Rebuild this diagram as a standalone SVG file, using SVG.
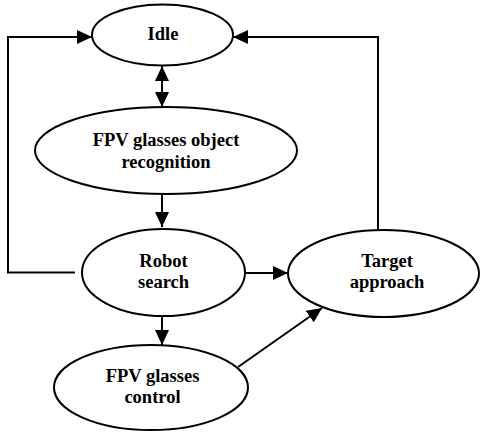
<svg xmlns="http://www.w3.org/2000/svg" width="482" height="432" viewBox="0 0 482 432">
<defs>
<style>
.n{fill:#fff;stroke:#000;stroke-width:2}
.t{font-family:"Liberation Serif","Times New Roman",serif;font-weight:bold;font-size:18.5px;text-anchor:middle;fill:#000}
.c{fill:none;stroke:#000;stroke-width:2}
</style>
<marker id="ah" markerUnits="userSpaceOnUse" markerWidth="15" markerHeight="14" refX="15" refY="7" orient="auto-start-reverse" viewBox="0 0 15 14">
<path d="M0,0 L15,7 L0,14 Z" fill="#000"/>
</marker>
</defs>
<rect width="482" height="432" fill="#fff"/>
<g id="connectors">
<path class="c" d="M75,272.5 H8 V37 H92" marker-end="url(#ah)"/>
<path class="c" d="M378,230 V37 H233" marker-end="url(#ah)"/>
<path class="c" d="M162,66 V107" marker-start="url(#ah)" marker-end="url(#ah)"/>
<path class="c" d="M162,194 V227" marker-end="url(#ah)"/>
<path class="c" d="M245,273 H288" marker-end="url(#ah)"/>
<path class="c" d="M162,316 V345" marker-end="url(#ah)"/>
<path class="c" d="M238,367 L322,308" marker-end="url(#ah)"/>
</g>
<g id="idle">
<ellipse class="n" cx="162.5" cy="35" rx="70.5" ry="30.5"/>
<text class="t" x="163" y="40">Idle</text>
</g>
<g id="recognition">
<ellipse class="n" cx="166" cy="150.5" rx="131" ry="43.5"/>
<text class="t" x="166" y="146">FPV glasses object</text>
<text class="t" x="166" y="167.5">recognition</text>
</g>
<g id="robot-search">
<ellipse class="n" cx="163.5" cy="272.5" rx="81.5" ry="43.5"/>
<text class="t" x="163.5" y="267">Robot</text>
<text class="t" x="163.5" y="288">search</text>
</g>
<g id="target-approach">
<ellipse class="n" cx="383.5" cy="273.5" rx="95.5" ry="43.5"/>
<text class="t" x="387" y="267">Target</text>
<text class="t" x="387" y="288">approach</text>
</g>
<g id="fpv-control">
<ellipse class="n" cx="151" cy="387.5" rx="97" ry="42.5"/>
<text class="t" x="152.5" y="382">FPV glasses</text>
<text class="t" x="152.5" y="403">control</text>
</g>
</svg>
